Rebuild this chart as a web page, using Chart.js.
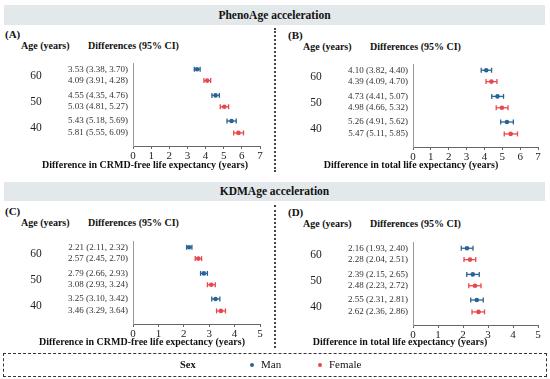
<!DOCTYPE html>
<html>
<head>
<meta charset="utf-8">
<script src="https://cdn.jsdelivr.net/npm/chart.js@4/dist/chart.umd.min.js"></script>
<style>
  body { margin: 0; background: #fff; }
  #page { position: relative; width: 550px; height: 379px; overflow: hidden;
          font-family: 'Liberation Serif', 'Times New Roman', serif; color: #111; }
  .band { position: absolute; left: 4px; width: 541px; background: #e3e8ea;
          font-weight: bold; font-size: 11.5px; text-align: center; }
  .txt { position: absolute; white-space: nowrap; line-height: 1; }
  .b { font-weight: bold; }
  .axt { position: absolute; white-space: nowrap; line-height: 1; font-weight: bold;
         font-size: 10px; width: 260px; text-align: center; }
  canvas { position: absolute; }
  .sep { position: absolute; left: 274px; width: 0; border-left: 2px dotted #444; }
  #legend { position: absolute; left: 3px; top: 353px; width: 542px; height: 22px;
            border: 1px dashed #333; }
  .dot { position: absolute; width: 4px; height: 4px; border-radius: 50%; }
</style>
</head>
<body>
<div id="page">
  <div class="band" style="top:5px;height:20px;line-height:20px;">PhenoAge acceleration</div>
  <div class="band" style="top:182px;height:19px;line-height:19px;">KDMAge acceleration</div>

  <div class="sep" style="top:28px;height:144px;"></div>
  <div class="sep" style="top:205px;height:143px;"></div>

  <div class="txt b" style="left:5px;top:29px;font-size:11px;">(A)</div>
  <div class="txt b" style="left:21px;top:41px;font-size:10px;">Age (years)</div>
  <div class="txt b" style="left:88px;top:41px;font-size:10px;">Differences (95% CI)</div>

  <div class="txt b" style="left:288px;top:30px;font-size:11px;">(B)</div>
  <div class="txt b" style="left:303px;top:42px;font-size:10px;">Age (years)</div>
  <div class="txt b" style="left:370px;top:42px;font-size:10px;">Differences (95% CI)</div>

  <div class="txt b" style="left:5px;top:206px;font-size:11px;">(C)</div>
  <div class="txt b" style="left:21px;top:218px;font-size:10px;">Age (years)</div>
  <div class="txt b" style="left:88px;top:218px;font-size:10px;">Differences (95% CI)</div>

  <div class="txt b" style="left:288px;top:207px;font-size:11px;">(D)</div>
  <div class="txt b" style="left:303px;top:219px;font-size:10px;">Age (years)</div>
  <div class="txt b" style="left:370px;top:219px;font-size:10px;">Differences (95% CI)</div>

  <canvas id="chartA" width="272" height="136" style="left:0px;top:40px;"></canvas>
  <canvas id="chartB" width="270" height="136" style="left:280px;top:41px;"></canvas>
  <canvas id="chartC" width="272" height="136" style="left:0px;top:218px;"></canvas>
  <canvas id="chartD" width="270" height="136" style="left:280px;top:219px;"></canvas>

  <div class="axt" id="titleA" style="left:15px;top:160px;"></div>
  <div class="axt" id="titleB" style="left:281px;top:160px;"></div>
  <div class="axt" id="titleC" style="left:12px;top:337px;"></div>
  <div class="axt" id="titleD" style="left:270px;top:337px;"></div>

  <div id="legend">
    <div class="txt b" style="left:176px;top:6px;font-size:10.5px;">Sex</div>
    <div class="dot" style="left:246px;top:9px;background:#2a6496;"></div>
    <div class="txt" style="left:257px;top:5px;font-size:11px;">Man</div>
    <div class="dot" style="left:314px;top:9px;background:#e8474f;"></div>
    <div class="txt" style="left:325px;top:5px;font-size:11px;">Female</div>
  </div>
</div>

<script>
// rows top to bottom: age 60 man/female, 50 man/female, 40 man/female
const ages = ["60", "50", "40"];
const rowSex = ["Man", "Female", "Man", "Female", "Man", "Female"];
const rowPos = [0, 1, 2.3, 3.3, 4.55, 5.6];

// (A) PhenoAge, CRMD-free life expectancy
const phenoCrmdEst = [3.53, 4.09, 4.55, 5.03, 5.43, 5.81];
const phenoCrmdLo = [3.38, 3.91, 4.35, 4.81, 5.18, 5.55];
const phenoCrmdHi = [3.70, 4.28, 4.76, 5.27, 5.69, 6.09];

// (B) PhenoAge, total life expectancy
const phenoTotalEst = [4.10, 4.39, 4.73, 4.98, 5.26, 5.47];
const phenoTotalLo = [3.82, 4.09, 4.41, 4.66, 4.91, 5.11];
const phenoTotalHi = [4.40, 4.70, 5.07, 5.32, 5.62, 5.85];

// (C) KDMAge, CRMD-free life expectancy
const kdmCrmdEst = [2.21, 2.57, 2.79, 3.08, 3.25, 3.46];
const kdmCrmdLo = [2.11, 2.45, 2.66, 2.93, 3.10, 3.29];
const kdmCrmdHi = [2.32, 2.70, 2.93, 3.24, 3.42, 3.64];

// (D) KDMAge, total life expectancy
const kdmTotalEst = [2.16, 2.28, 2.39, 2.48, 2.55, 2.62];
const kdmTotalLo = [1.93, 2.04, 2.15, 2.23, 2.31, 2.36];
const kdmTotalHi = [2.40, 2.51, 2.65, 2.72, 2.81, 2.86];

const crmdTitle = "Difference in CRMD-free life expectancy (years)";
const totalTitle = "Difference in total life expectancy (years)";

const BLUE = "#2a6496";
const RED = "#e8474f";
const SERIF = "'Liberation Serif', 'Times New Roman', serif";

Chart.defaults.font.family = SERIF;
Chart.defaults.color = "#222";

const ageLabels = {
  id: "ageLabels",
  afterDraw(chart) {
    const y = chart.scales.y;
    const ctx = chart.ctx;
    ctx.save();
    ctx.font = "11.5px " + SERIF;
    ctx.fillStyle = "#222";
    ctx.textAlign = "center";
    ctx.textBaseline = "middle";
    ages.forEach((a, g) => {
      const py = (y.getPixelForValue(rowPos[2 * g]) + y.getPixelForValue(rowPos[2 * g + 1])) / 2;
      ctx.fillText(a, 36, py + 1);
    });
    ctx.restore();
  },
};

function makeChart(id, est, lo, hi, xMax, xTitle) {
  document.getElementById("title" + id.slice(-1)).textContent = xTitle;
  const labels = est.map((e, i) => `${e.toFixed(2)} (${lo[i].toFixed(2)}, ${hi[i].toFixed(2)})`);
  const colors = rowSex.map((s) => (s === "Man" ? BLUE : RED));

  // CI whiskers, one short line per row with vertical caps
  const datasets = rowPos.map((y, i) => ({
    data: [{ x: lo[i], y: y }, { x: hi[i], y: y }],
    showLine: true,
    borderColor: colors[i],
    borderWidth: 1.3,
    pointStyle: "line",
    rotation: 90,
    pointRadius: 2.5,
    pointBorderColor: colors[i],
    pointBorderWidth: 1.3,
  }));
  // point estimates
  datasets.push({
    data: est.map((x, i) => ({ x: x, y: rowPos[i] })),
    pointRadius: 2.3,
    pointBackgroundColor: colors,
    pointBorderColor: colors,
    pointBorderWidth: 0,
  });

  return new Chart(document.getElementById(id), {
    type: "scatter",
    data: { datasets },
    options: {
      responsive: false,
      animation: false,
      events: [],
      layout: { padding: { top: 23, right: 12, left: 0, bottom: 0 } },
      plugins: { legend: { display: false }, tooltip: { enabled: false } },
      scales: {
        x: {
          type: "linear",
          min: 0,
          max: xMax,
          afterFit: (s) => { s.height = 30; },
          ticks: { stepSize: 1, padding: 1, font: { size: 11 }, color: "#222" },
          grid: { drawOnChartArea: false, drawTicks: true, tickLength: 3, color: "#666" },
          border: { color: "#666" },
        },
        y: {
          type: "linear",
          reverse: true,
          min: -0.55,
          max: 6.75,
          afterFit: (s) => { s.width = 133; },
          afterBuildTicks: (s) => { s.ticks = rowPos.map((v) => ({ value: v })); },
          ticks: { callback: (v, i) => labels[i], padding: 5, font: { size: 9 }, color: "#333" },
          grid: { drawOnChartArea: false, drawTicks: false },
          border: { color: "#999", dash: [1, 2] },
        },
      },
    },
    plugins: [ageLabels],
  });
}

makeChart("chartA", phenoCrmdEst, phenoCrmdLo, phenoCrmdHi, 7, crmdTitle);
makeChart("chartB", phenoTotalEst, phenoTotalLo, phenoTotalHi, 7, totalTitle);
makeChart("chartC", kdmCrmdEst, kdmCrmdLo, kdmCrmdHi, 5, crmdTitle);
makeChart("chartD", kdmTotalEst, kdmTotalLo, kdmTotalHi, 5, totalTitle);
</script>
</body>
</html>
